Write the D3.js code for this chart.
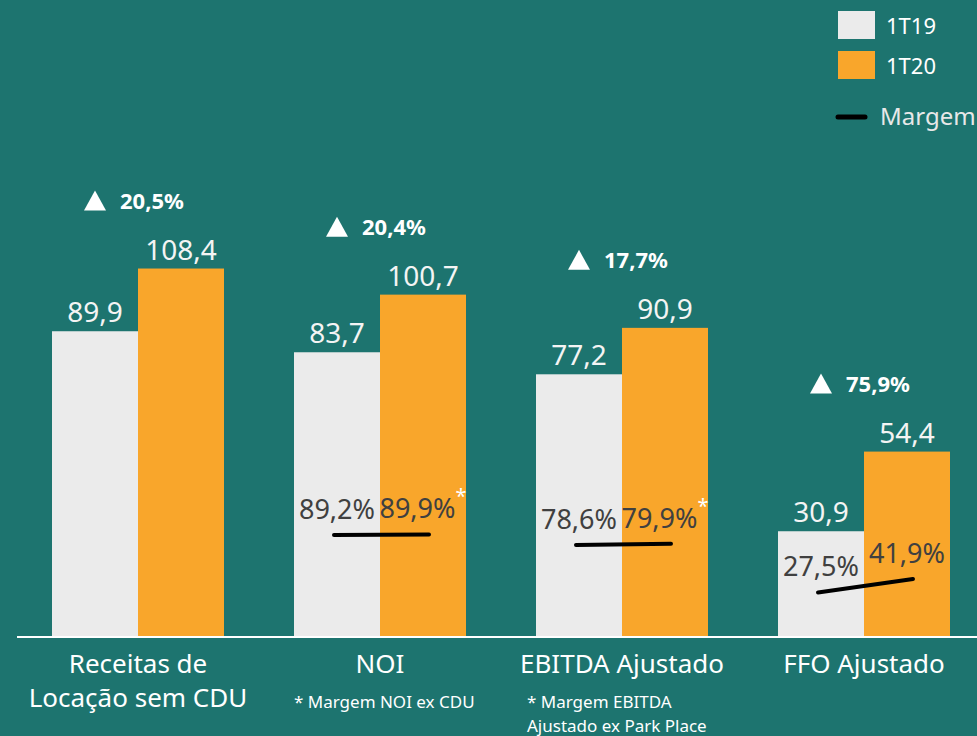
<!DOCTYPE html>
<html>
<head>
<meta charset="utf-8">
<script src="https://cdn.jsdelivr.net/npm/d3@7"></script>
<style>
  html, body { margin: 0; padding: 0; background: #1d746f; overflow: hidden; }
  svg { display: block; font-family: "Noto Sans", "Open Sans", sans-serif; }
</style>
</head>
<body>
<script>
// dados do gráfico
var categorias = ['Receitas de|Locação sem CDU', 'NOI', 'EBITDA Ajustado', 'FFO Ajustado']
var series = ['1T19', '1T20']
var valores1T19 = [89.9, 83.7, 77.2, 30.9]
var valores1T20 = [108.4, 100.7, 90.9, 54.4]
var crescimento = [20.5, 20.4, 17.7, 75.9]
var margem1T19 = [null, 89.2, 78.6, 27.5]
var margem1T20 = [null, 89.9, 79.9, 41.9]
var asterisco = [false, true, true, false]
var notas = [[], ['* Margem NOI ex CDU'], ['* Margem EBITDA', 'Ajustado ex Park Place'], []]

var width = 977, height = 736
var base = 636
var cores = { '1T19': '#ebebeb', '1T20': '#f9a62b' }
var fmt = v => d3.format('.1f')(v).replace('.', ',')

var svg = d3.select('body').append('svg')
  .attr('width', width)
  .attr('height', height)

svg.append('rect').attr('width', width).attr('height', height).attr('fill', '#1d746f')

var x = d3.scaleBand().domain(categorias).range([52, 950]).paddingInner(70 / 242)
var xs = d3.scaleBand().domain(series).range([0, x.bandwidth()])
var y = d3.scaleLinear().domain([0, 100]).range([base, base - 339])
// escala da margem (linha preta)
var yM = d3.scaleLinear().domain([0, 100]).range([618, 525])

var dados = categorias.map((c, i) => ({
  cat: c,
  v: [valores1T19[i], valores1T20[i]],
  cresc: crescimento[i],
  m: [margem1T19[i], margem1T20[i]],
  ast: asterisco[i],
  nota: notas[i]
}))

var grupos = svg.selectAll('.grupo')
  .data(dados)
  .enter()
  .append('g')
  .attr('class', 'grupo')
  .attr('transform', d => 'translate(' + x(d.cat) + ',0)')

// barras
grupos.selectAll('rect')
  .data(d => d.v.map((v, j) => ({ s: series[j], v: v })))
  .enter()
  .append('rect')
  .attr('x', d => xs(d.s))
  .attr('y', d => y(d.v))
  .attr('width', xs.bandwidth())
  .attr('height', d => base - y(d.v))
  .attr('fill', d => cores[d.s])

// valores
grupos.selectAll('.valor')
  .data(d => d.v.map((v, j) => ({ s: series[j], v: v })))
  .enter()
  .append('text')
  .attr('class', 'valor')
  .attr('x', d => xs(d.s) + xs.bandwidth() / 2)
  .attr('y', d => y(d.v) - 9)
  .attr('text-anchor', 'middle')
  .attr('fill', '#f4f4f4')
  .attr('font-size', 28)
  .text(d => fmt(d.v))

// crescimento
var cresc = grupos.append('g')
  .attr('transform', d => 'translate(' + (x.bandwidth() / 2) + ',' + (y(d3.max(d.v)) - 68) + ')')
cresc.append('path')
  .attr('d', 'M -54 10 L -43 -10 L -32 10 Z')
  .attr('fill', '#fff')
cresc.append('text')
  .attr('x', -18)
  .attr('y', 8)
  .attr('fill', '#fff')
  .attr('font-size', 22)
  .attr('font-weight', 'bold')
  .text(d => fmt(d.cresc) + '%')

// linha de margem
var comMargem = grupos.filter(d => d.m[0] != null)
comMargem.append('line')
  .attr('x1', xs.bandwidth() / 2 - 3)
  .attr('x2', xs('1T20') + xs.bandwidth() / 2 + 6)
  .attr('y1', d => yM(d.m[0]))
  .attr('y2', d => yM(d.m[1]))
  .attr('stroke', '#000')
  .attr('stroke-width', 4)
  .attr('stroke-linecap', 'round')

comMargem.selectAll('.margem')
  .data(d => d.m.map((m, j) => ({ s: series[j], m: m, ast: d.ast && j === 1 })))
  .enter()
  .append('text')
  .attr('class', 'margem')
  .attr('x', d => xs(d.s) + xs.bandwidth() / 2)
  .attr('y', d => yM(d.m) - 16)
  .attr('text-anchor', 'middle')
  .attr('fill', '#404040')
  .attr('font-size', 27)
  .text(d => fmt(d.m) + '%')
  .append('tspan')
  .attr('fill', '#fff')
  .attr('font-size', 20)
  .attr('dy', -15)
  .text(d => d.ast ? '*' : '')

// eixo
svg.append('line')
  .attr('x1', 17).attr('x2', width)
  .attr('y1', base + 1).attr('y2', base + 1)
  .attr('stroke', '#fff').attr('stroke-width', 2)

// rótulos das categorias
grupos.append('text')
  .attr('x', x.bandwidth() / 2)
  .attr('y', 673)
  .attr('text-anchor', 'middle')
  .attr('fill', '#fff')
  .attr('font-size', 26)
  .selectAll('tspan')
  .data(d => d.cat.split('|'))
  .enter()
  .append('tspan')
  .attr('x', x.bandwidth() / 2)
  .attr('dy', (d, i) => i ? 34 : 0)
  .text(d => d)

// notas de rodapé
grupos.append('text')
  .attr('fill', '#fff')
  .attr('font-size', 17)
  .selectAll('tspan')
  .data(d => d.nota)
  .enter()
  .append('tspan')
  .attr('x', (d, i, n) => n.length > 1 ? -9 : 0)
  .attr('y', (d, i, n) => n.length > 1 ? 708 + i * 24 : 708)
  .text(d => d)

// legenda
var leg = svg.append('g').attr('transform', 'translate(838,11)')
series.forEach((s, i) => {
  leg.append('rect').attr('x', 0).attr('y', i * 40).attr('width', 37).attr('height', 28).attr('fill', cores[s])
  leg.append('text').attr('x', 48).attr('y', i * 40 + 23).attr('fill', '#fff').attr('font-size', 22).text(s)
})
leg.append('line').attr('x1', 0).attr('x2', 27).attr('y1', 106).attr('y2', 106)
  .attr('stroke', '#000').attr('stroke-width', 5).attr('stroke-linecap', 'round')
leg.append('text').attr('x', 42).attr('y', 114).attr('fill', '#e8e8e8').attr('font-size', 24).text('Margem')
</script>
</body>
</html>
